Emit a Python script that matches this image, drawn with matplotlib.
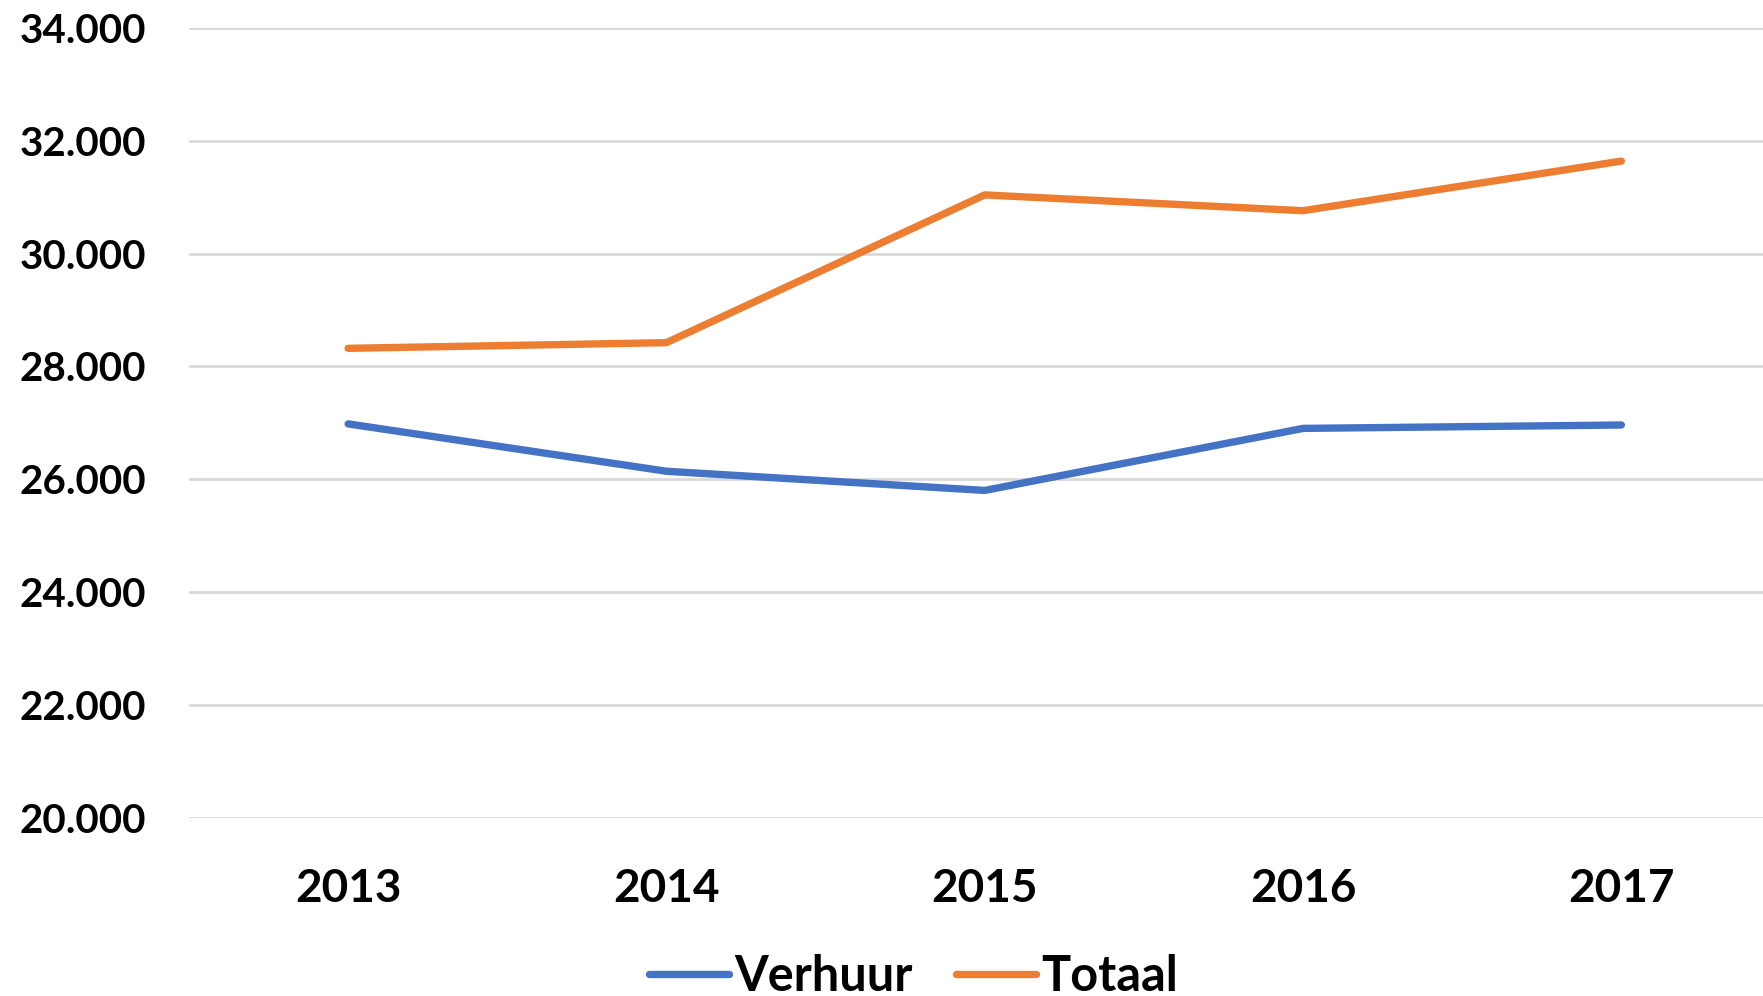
import matplotlib
matplotlib.use("Agg")
import matplotlib.pyplot as plt
from matplotlib.ticker import FuncFormatter

years = ["2013", "2014", "2015", "2016", "2017"]
verhuur = [26980, 26140, 25800, 26900, 26960]
totaal = [28320, 28420, 31040, 30760, 31640]
y_ticks = [20000, 22000, 24000, 26000, 28000, 30000, 32000, 34000]

plt.rcParams['font.family'] = ['Lato', 'DejaVu Sans']

fig = plt.figure(figsize=(17.63, 9.96), dpi=100)
ax = fig.add_axes([0.1072, 0.1792, 0.8928, 0.7927])

x = list(range(len(years)))
ax.plot(x, verhuur, color="#4472C4", lw=5.3, solid_capstyle="round", solid_joinstyle="round", label="Verhuur", zorder=3)
ax.plot(x, totaal, color="#ED7D31", lw=5.3, solid_capstyle="round", solid_joinstyle="round", label="Totaal", zorder=3)

ax.set_xlim(-0.5, 4.445)
ax.set_ylim(20000, 34000)
ax.set_yticks(y_ticks)
ax.yaxis.set_major_formatter(FuncFormatter(lambda v, p: f"{int(v):,}".replace(",", ".")))
ax.set_xticks(x)
ax.set_xticklabels(years)
ax.grid(axis="y", color="#D9D9D9", lw=2)
ax.set_axisbelow(True)
for s in ax.spines.values():
    s.set_visible(False)
ax.tick_params(axis="both", length=0)
ax.tick_params(axis="y", labelsize=29, pad=31)
ax.tick_params(axis="x", labelsize=33, pad=36)
for lab in ax.get_yticklabels() + ax.get_xticklabels():
    lab.set_fontweight("bold")

leg = fig.legend(loc="lower center", bbox_to_anchor=(0.518, -0.047), ncol=2, frameon=False,
                 prop={"size": 35, "weight": "bold"}, handlelength=1.65, handletextpad=0.1,
                 columnspacing=0.9)

fig.savefig("out.png", dpi=100, facecolor="white")
